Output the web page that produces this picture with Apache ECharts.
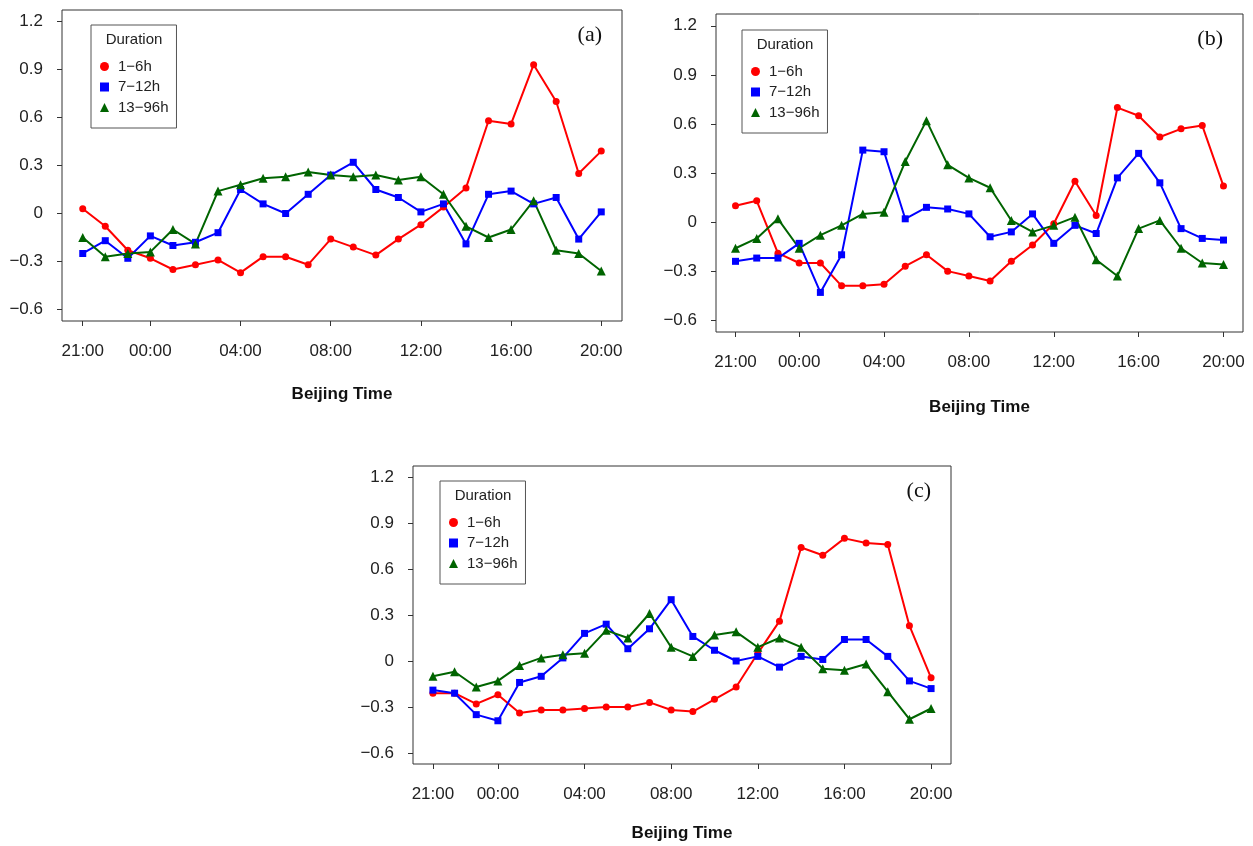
<!DOCTYPE html>
<html>
<head>
<meta charset="utf-8">
<script src="https://cdn.jsdelivr.net/npm/echarts@6/dist/echarts.min.js"></script>
<style>
	html, body { margin: 0; padding: 0; background: #fff; }
	#chart { width: 1253px; height: 846px; }
</style>
</head>
<body>
<div id="chart"></div>
<script>
// hours along the x axis, 21:00 of the previous day to 20:00
const hours = ['21:00','22:00','23:00','00:00','01:00','02:00','03:00','04:00','05:00','06:00','07:00','08:00',
	'09:00','10:00','11:00','12:00','13:00','14:00','15:00','16:00','17:00','18:00','19:00','20:00'];
const tickLabels = ['21:00','00:00','04:00','08:00','12:00','16:00','20:00'];
const yTicks = [-0.6, -0.3, 0, 0.3, 0.6, 0.9, 1.2];
const durations = ['1−6h', '7−12h', '13−96h'];

// (a)
const redA   = [0.03,-0.08,-0.23,-0.28,-0.35,-0.32,-0.29,-0.37,-0.27,-0.27,-0.32,-0.16,-0.21,-0.26,-0.16,-0.07,0.04,0.16,0.58,0.56,0.93,0.70,0.25,0.39];
const blueA  = [-0.25,-0.17,-0.28,-0.14,-0.20,-0.18,-0.12,0.15,0.06,0.00,0.12,0.24,0.32,0.15,0.10,0.01,0.06,-0.19,0.12,0.14,0.06,0.10,-0.16,0.01];
const greenA = [-0.15,-0.27,-0.25,-0.24,-0.10,-0.19,0.14,0.18,0.22,0.23,0.26,0.24,0.23,0.24,0.21,0.23,0.12,-0.08,-0.15,-0.10,0.08,-0.23,-0.25,-0.36];

// (b)
const redB   = [0.10,0.13,-0.19,-0.25,-0.25,-0.39,-0.39,-0.38,-0.27,-0.20,-0.30,-0.33,-0.36,-0.24,-0.14,-0.01,0.25,0.04,0.70,0.65,0.52,0.57,0.59,0.22];
const blueB  = [-0.24,-0.22,-0.22,-0.13,-0.43,-0.20,0.44,0.43,0.02,0.09,0.08,0.05,-0.09,-0.06,0.05,-0.13,-0.02,-0.07,0.27,0.42,0.24,-0.04,-0.10,-0.11];
const greenB = [-0.16,-0.10,0.02,-0.16,-0.08,-0.02,0.05,0.06,0.37,0.62,0.35,0.27,0.21,0.01,-0.06,-0.02,0.03,-0.23,-0.33,-0.04,0.01,-0.16,-0.25,-0.26];

// (c)
const redC   = [-0.21,-0.21,-0.28,-0.22,-0.34,-0.32,-0.32,-0.31,-0.30,-0.30,-0.27,-0.32,-0.33,-0.25,-0.17,0.05,0.26,0.74,0.69,0.80,0.77,0.76,0.23,-0.11];
const blueC  = [-0.19,-0.21,-0.35,-0.39,-0.14,-0.10,0.02,0.18,0.24,0.08,0.21,0.40,0.16,0.07,0.00,0.03,-0.04,0.03,0.01,0.14,0.14,0.03,-0.13,-0.18];
const greenC = [-0.10,-0.07,-0.17,-0.13,-0.03,0.02,0.04,0.05,0.20,0.15,0.31,0.09,0.03,0.17,0.19,0.09,0.15,0.09,-0.05,-0.06,-0.02,-0.20,-0.38,-0.31];

const values = [[redA, blueA, greenA], [redB, blueB, greenB], [redC, blueC, greenC]];

const colors = ['#ff0000', '#0000ff', '#006400'];
const symbols = ['circle', 'rect', 'triangle'];
const symbolSizes = [7, 7, 9];
const font = '"Liberation Sans", Arial, sans-serif';

const layouts = [
	{tag: '(a)', left: 62,  top: 10,  width: 560, height: 311, legendLeft: 91,  legendTop: 25,  nameGap: 65},
	{tag: '(b)', left: 716, top: 14,  width: 527, height: 318, legendLeft: 742, legendTop: 30,  nameGap: 67},
	{tag: '(c)', left: 413, top: 466, width: 538, height: 298, legendLeft: 440, legendTop: 481, nameGap: 61}
];

const xTicks = tickLabels.map(t => hours.indexOf(t));
const fmtY = v => v === 0 ? '0' : v.toFixed(1).replace('-', '−');

const grid = [], xAxis = [], yAxis = [], legend = [], series = [], graphic = [];

layouts.forEach((l, i) => {
	grid.push({
		left: l.left, top: l.top, width: l.width, height: l.height,
		show: true, borderColor: '#333', borderWidth: 1, backgroundColor: 'transparent'
	});
	xAxis.push({
		gridIndex: i, type: 'value', min: -0.92, max: 23.92,
		axisLine: {show: false, onZero: false},
		splitLine: {show: false},
		axisTick: {show: true, customValues: xTicks, length: 5, lineStyle: {color: '#333'}},
		axisLabel: {customValues: xTicks, formatter: v => hours[v], fontSize: 17, color: '#222', fontFamily: font, margin: 22},
		name: 'Beijing Time', nameLocation: 'middle', nameGap: l.nameGap,
		nameTextStyle: {fontSize: 17, fontWeight: 'bold', color: '#111', fontFamily: font}
	});
	yAxis.push({
		gridIndex: i, type: 'value', min: -0.672, max: 1.272,
		axisLine: {show: false, onZero: false},
		splitLine: {show: false},
		axisTick: {show: true, customValues: yTicks, length: 5, lineStyle: {color: '#333'}},
		axisLabel: {customValues: yTicks, formatter: fmtY, fontSize: 17, color: '#222', fontFamily: font, margin: 19}
	});
	legend.push({
		left: l.legendLeft, top: l.legendTop, orient: 'vertical',
		data: durations.map((n, k) => ({name: n, icon: symbols[k]})),
		itemWidth: 9, itemHeight: 9, itemGap: 5.5,
		padding: [34, 8, 13, 9],
		borderColor: '#555', borderWidth: 1, borderRadius: 0,
		selectedMode: false,
		textStyle: {fontSize: 15, color: '#222', fontFamily: font, lineHeight: 15, padding: [0, 0, 0, 4]}
	});
	graphic.push({
		type: 'text', x: l.legendLeft + 43, y: l.legendTop + 15,
		style: {text: 'Duration', fontSize: 15, fontFamily: font, fill: '#222', align: 'center', verticalAlign: 'middle'}
	});
	graphic.push({
		type: 'text', x: l.left + l.width - 20, y: l.top + 25,
		style: {text: l.tag, fontSize: 22, fontFamily: '"Liberation Serif", serif', fill: '#111', align: 'right', verticalAlign: 'middle'}
	});
	durations.forEach((name, k) => {
		series.push({
			type: 'line', name: name,
			xAxisIndex: i, yAxisIndex: i,
			data: values[i][k].map((v, j) => [j, v]),
			symbol: symbols[k], symbolSize: symbolSizes[k],
			itemStyle: {color: colors[k]},
			lineStyle: {width: 2, color: colors[k]},
			emphasis: {disabled: true}
		});
	});
});

let myChart = echarts.init(document.getElementById('chart'));
myChart.setOption({
	backgroundColor: '#fff',
	animation: false,
	grid: grid,
	xAxis: xAxis,
	yAxis: yAxis,
	legend: legend,
	series: series,
	graphic: graphic
});
</script>
</body>
</html>
